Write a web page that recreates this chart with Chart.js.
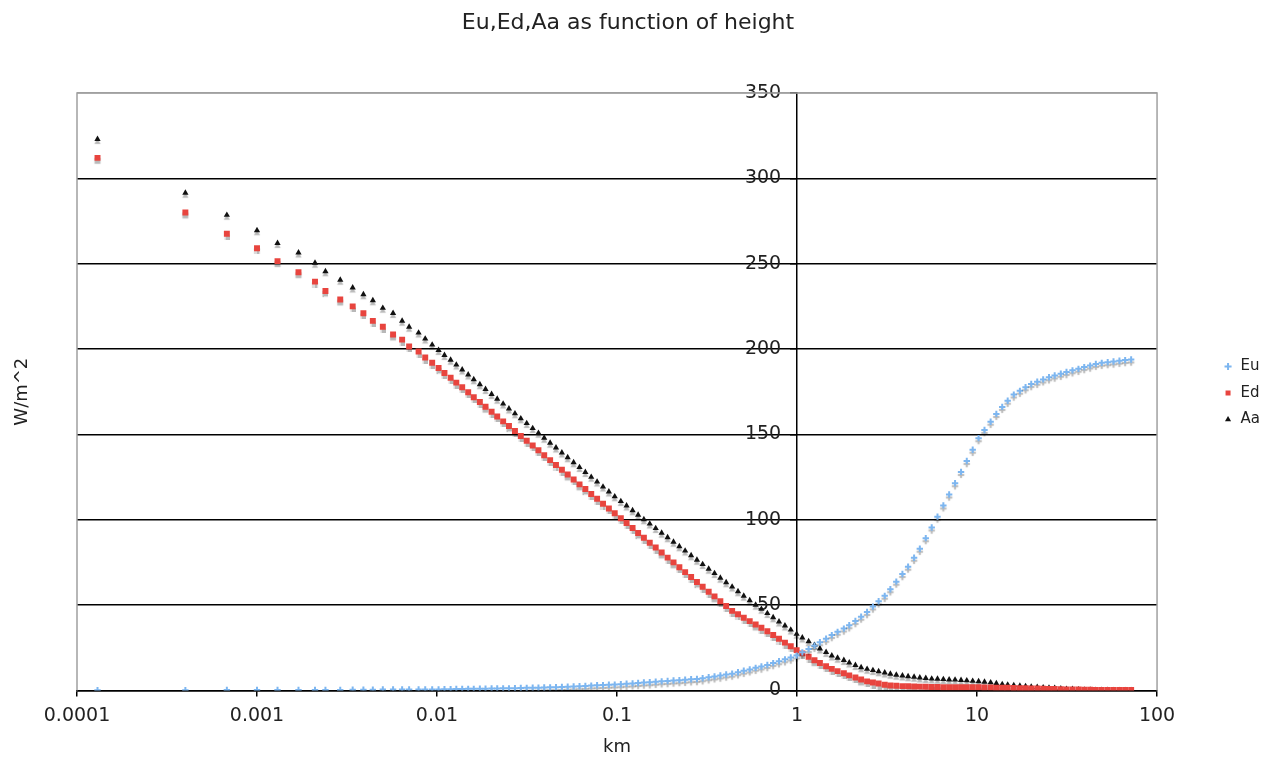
<!DOCTYPE html>
<html>
<head>
<meta charset="utf-8">
<title>Eu,Ed,Aa as function of height</title>
<script src="https://cdn.jsdelivr.net/npm/chart.js@4.4.1/dist/chart.umd.min.js"></script>
<style>
  html, body { margin: 0; padding: 0; background: #fff; }
</style>
</head>
<body>
<canvas id="chart" width="1274" height="758"></canvas>
<script>
// height above ground (km)
const heightKm = [
  0.00013, 0.0004, 0.00068, 0.001, 0.0013, 0.0017, 0.0021, 0.0024, 0.0029, 0.0034,
  0.0039, 0.0044, 0.005, 0.0057, 0.0064, 0.007, 0.0079, 0.0086, 0.0094,
  0.0102, 0.0110, 0.0119, 0.0128, 0.0138, 0.0149, 0.0160, 0.0173, 0.0186, 0.0201,
  0.0216, 0.0233, 0.0251, 0.0271, 0.0292, 0.0315, 0.0340, 0.0366, 0.0394, 0.0425,
  0.0458, 0.0494, 0.0532, 0.0574, 0.0619, 0.0667, 0.0719, 0.0775, 0.0836, 0.0901,
  0.0971, 0.105, 0.113, 0.122, 0.131, 0.141, 0.152, 0.164, 0.177, 0.191,
  0.206, 0.222, 0.239, 0.258, 0.278, 0.299, 0.323, 0.348, 0.375, 0.404,
  0.436, 0.470, 0.506, 0.546, 0.589, 0.634, 0.684, 0.737, 0.794, 0.857,
  0.923, 0.995, 1.07, 1.16, 1.25, 1.34, 1.45, 1.56, 1.68, 1.82,
  1.95, 2.11, 2.27, 2.45, 2.64, 2.84, 3.07, 3.30, 3.56, 3.85,
  4.14, 4.47, 4.81, 5.19, 5.60, 6.03, 6.50, 7.00, 7.55, 8.15,
  8.77, 9.46, 10.2, 11.0, 11.9, 12.8, 13.8, 14.8, 16.0, 17.3,
  18.6, 20.0, 21.6, 23.3, 25.1, 27.0, 29.2, 31.4, 33.9, 36.6,
  39.4, 42.5, 45.7, 49.3, 53.2, 57.3, 61.8, 66.5, 71.8
];

// upward flux (W/m^2)
const eu = [
  0.1, 0.1, 0.2, 0.2, 0.2, 0.3, 0.3, 0.3, 0.3, 0.4,
  0.4, 0.4, 0.5, 0.5, 0.5, 0.5, 0.6, 0.6, 0.6,
  0.6, 0.7, 0.7, 0.8, 0.8, 0.9, 0.9, 1.0, 1.0, 1.1,
  1.1, 1.2, 1.2, 1.3, 1.4, 1.5, 1.6, 1.6, 1.7, 1.8,
  1.9, 2.0, 2.1, 2.3, 2.5, 2.6, 2.8, 3.0, 3.1, 3.3,
  3.4, 3.6, 3.9, 4.1, 4.3, 4.6, 4.8, 5.1, 5.3, 5.5,
  5.8, 6.0, 6.2, 6.5, 6.7, 7.1, 7.7, 8.2, 8.7, 9.3,
  9.8, 10.6, 11.5, 12.3, 13.2, 14.0, 14.9, 16.0, 17.1, 18.2,
  19.3, 20.4, 22.3, 24.2, 26.2, 28.2, 30.3, 32.4, 34.3, 36.2,
  38.2, 40.7, 43.2, 45.9, 49.1, 52.2, 55.4, 59.3, 63.7, 68.2,
  72.5, 77.7, 83.0, 89.2, 95.4, 101.8, 108.4, 114.8, 121.4, 128.0,
  134.4, 141.0, 147.8, 152.6, 157.4, 162.0, 166.1, 169.7, 173.3, 175.5,
  177.6, 179.5, 180.8, 182.2, 183.5, 184.5, 185.5, 186.5, 187.5, 188.4,
  189.4, 190.3, 191.3, 191.9, 192.3, 192.7, 193.1, 193.5, 193.9
];

// downward flux (W/m^2)
const ed = [
  312, 280, 267.5, 259, 251.5, 245, 239.5, 234, 229, 225,
  221, 216.5, 213, 208.5, 205.5, 201.5, 198.5, 195, 192,
  188.9, 186.0, 183.2, 180.3, 177.6, 174.7, 171.8, 169.0, 166.2, 163.3,
  160.5, 157.6, 154.9, 152.0, 149.1, 146.3, 143.5, 140.7, 137.8, 134.9,
  132.1, 129.3, 126.5, 123.6, 120.7, 118.0, 115.1, 112.3, 109.4, 106.6,
  103.8, 100.9, 98.1, 95.2, 92.2, 89.4, 86.5, 83.7, 80.8, 77.8,
  75.0, 72.1, 69.3, 66.4, 63.5, 60.7, 57.8, 55.1, 52.2, 49.4,
  46.6, 44.6, 42.6, 40.6, 38.6, 36.7, 34.7, 32.5, 30.3, 28.0,
  25.9, 23.6, 21.7, 19.7, 17.7, 16.0, 14.2, 12.6, 11.3, 10.1,
  8.8, 7.6, 6.4, 5.3, 4.6, 4.0, 3.3, 2.9, 2.7, 2.5,
  2.4, 2.3, 2.2, 2.1, 2.0, 2.0, 1.9, 1.9, 1.9, 1.9,
  1.8, 1.8, 1.8, 1.7, 1.7, 1.6, 1.5, 1.5, 1.4, 1.3,
  1.3, 1.2, 1.1, 1.0, 0.9, 0.8, 0.7, 0.6, 0.5, 0.5,
  0.4, 0.4, 0.3, 0.3, 0.3, 0.2, 0.2, 0.2, 0.2
];

// atmospheric absorption (W/m^2)
const aa = [
  323, 291.5, 278.5, 269.5, 262, 256.5, 250.5, 245.5, 240.5, 236,
  232, 228.5, 224, 221, 216.5, 213, 209.5, 206, 202.5,
  199.3, 196.4, 193.6, 190.8, 187.9, 185.0, 182.2, 179.3, 176.5, 173.6,
  170.8, 167.9, 165.1, 162.2, 159.3, 156.5, 153.6, 150.8, 147.9, 145.0,
  142.2, 139.3, 136.5, 133.6, 130.7, 127.9, 125.0, 122.2, 119.3, 116.4,
  113.6, 110.8, 108.2, 105.5, 102.8, 100.2, 97.6, 95.0, 92.3, 89.6,
  87.0, 84.4, 81.8, 79.1, 76.5, 73.9, 71.2, 68.6, 65.9, 63.3,
  60.7, 58.0, 55.4, 52.7, 50.1, 47.7, 45.2, 42.8, 40.3, 37.9,
  35.5, 33.0, 30.9, 28.7, 26.6, 24.5, 22.4, 20.4, 19.0, 17.7,
  16.3, 14.8, 13.5, 12.5, 11.8, 11.1, 10.4, 9.7, 9.1, 8.6,
  8.2, 7.9, 7.5, 7.2, 6.8, 6.7, 6.5, 6.3, 6.2, 6.0,
  5.8, 5.5, 5.3, 5.0, 4.6, 4.1, 3.6, 3.3, 3.0, 2.6,
  2.4, 2.1, 1.9, 1.7, 1.5, 1.3, 1.0, 0.8, 0.7, 0.5,
  0.3, 0.3, 0.2, 0.2, 0.2, 0.1, 0.1, 0.1, 0.1
];

const xTicks = [0.0001, 0.001, 0.01, 0.1, 1, 10, 100];
const xTickLabels = ['0.0001', '0.001', '0.01', '0.1', '1', '10', '100'];

const FONT = 'DejaVu Sans';
const TEXT = '#222';

const points = vals => heightKm.map((h, i) => ({ x: h, y: vals[i] }));

// gray frame round the plot + drop shadow under the markers (excel look)
const frameAndShadow = {
  id: 'frameAndShadow',
  beforeDatasetsDraw(chart) {
    const { ctx, chartArea: a } = chart;
    ctx.save();
    ctx.strokeStyle = '#a0a0a0';
    ctx.lineWidth = 1.5;
    ctx.beginPath();
    ctx.moveTo(a.left, a.bottom);
    ctx.lineTo(a.left, a.top);
    ctx.lineTo(a.right, a.top);
    ctx.lineTo(a.right, a.bottom);
    ctx.stroke();
    ctx.restore();

    ctx.save();
    ctx.shadowColor = 'rgba(0,0,0,0.28)';
    ctx.shadowOffsetX = 0;
    ctx.shadowOffsetY = 3;
    ctx.shadowBlur = 1;
  },
  afterDatasetsDraw(chart) {
    chart.ctx.restore();
  }
};

new Chart(document.getElementById('chart'), {
  type: 'scatter',
  plugins: [frameAndShadow],
  data: {
    datasets: [
      {
        label: 'Eu',
        data: points(eu),
        yAxisID: 'y',
        pointStyle: 'cross',
        pointRadius: 3.2,
        borderWidth: 2,
        borderColor: '#7db6f0',
        backgroundColor: '#7db6f0'
      },
      {
        label: 'Ed',
        data: points(ed),
        yAxisID: 'y',
        pointStyle: 'rect',
        pointRadius: 4.2,
        borderWidth: 0,
        borderColor: '#e8443e',
        backgroundColor: '#e8443e'
      },
      {
        label: 'Aa',
        data: points(aa),
        yAxisID: 'y',
        pointStyle: 'triangle',
        pointRadius: 3.6,
        borderWidth: 0,
        borderColor: '#111',
        backgroundColor: '#111'
      }
    ]
  },
  options: {
    responsive: false,
    animation: false,
    devicePixelRatio: 1,
    layout: { padding: { left: 0, right: 4, top: 0, bottom: 0 } },
    plugins: {
      title: {
        display: true,
        // trailing spaces nudge the centred title a little to the left
        text: 'Eu,Ed,Aa as function of height  ',
        color: TEXT,
        font: { family: FONT, size: 22, weight: 'normal' },
        padding: { top: 10, bottom: 56.6 }
      },
      legend: {
        position: 'right',
        title: { display: true, text: ' ', font: { size: 10 }, padding: { top: 16, bottom: 0 } },
        labels: {
          usePointStyle: true,
          boxWidth: 10,
          boxHeight: 5,
          padding: 11.5,
          color: TEXT,
          font: { family: FONT, size: 15 }
        }
      },
      tooltip: { enabled: false }
    },
    scales: {
      x: {
        type: 'logarithmic',
        position: 'bottom',
        min: 0.0001,
        max: 100,
        afterBuildTicks: scale => {
          scale.ticks = xTicks.map(v => ({ value: v }));
        },
        ticks: {
          autoSkip: false,
          maxRotation: 0,
          padding: 8.6,
          color: TEXT,
          font: { family: FONT, size: 19 },
          callback: value => xTickLabels[xTicks.indexOf(value)]
        },
        grid: {
          drawOnChartArea: false,
          drawTicks: true,
          tickLength: 6,
          color: '#000',
          lineWidth: 1.5
        },
        border: { color: '#000', width: 1.5 },
        title: {
          display: true,
          text: 'km',
          color: TEXT,
          font: { family: FONT, size: 18 },
          padding: { top: 0, bottom: 0 }
        }
      },
      y: {
        type: 'linear',
        axis: 'y',
        position: { x: 1 },
        min: 0,
        max: 350,
        ticks: {
          stepSize: 50,
          color: TEXT,
          font: { family: FONT, size: 19 },
          // keep the labels clear of the axis line
          callback: value => value + '  \u2009'
        },
        grid: {
          color: ctx => (ctx.tick && ctx.tick.value === 350 ? '#a0a0a0' : '#000'),
          tickColor: '#000',
          lineWidth: 1.5,
          drawTicks: true,
          tickLength: 6
        },
        border: { color: '#000', width: 1.5 }
      },
      // left strip: holds the y axis title
      yl: {
        type: 'linear',
        axis: 'y',
        position: 'left',
        grid: { display: false },
        border: { display: false },
        ticks: { display: false },
        title: {
          display: true,
          text: 'W/m^2',
          color: TEXT,
          font: { family: FONT, size: 18 },
          padding: { top: 12, bottom: 0 }
        },
        afterFit: scale => { scale.width = 77; }
      },
      // right strip: gap between plot and legend
      yr: {
        type: 'linear',
        axis: 'y',
        position: 'right',
        grid: { display: false },
        border: { display: false },
        ticks: { display: false },
        afterFit: scale => { scale.width = 54.5; }
      }
    }
  }
});
</script>
</body>
</html>
